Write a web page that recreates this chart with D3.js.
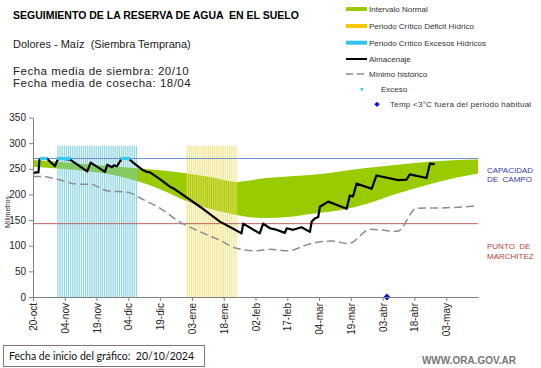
<!DOCTYPE html>
<html><head><meta charset="utf-8">
<script src="https://cdn.jsdelivr.net/npm/d3@7"></script>
<style>body{margin:0;background:#fff}svg{display:block}text{white-space:pre}</style>
</head><body>
<script>
// ---- DATA (day index = days since 20-oct-2024) ----
const tickDays = [0,15,30,45,60,75,90,105,120,135,150,165,180,195];
const tickLabels = ["20-oct","04-nov","19-nov","04-dic","19-dic","03-ene","18-ene","02-feb","17-feb","04-mar","19-mar","03-abr","18-abr","03-may"];
const yTicks = [0,50,100,150,200,250,300,350];

const bandDays  = [0,10,28,40,49,60,73,85,96,100,110,120,131,140,156,172,188,200,210];
const bandUpper = [267,264,258,254,251,247,241,233,224,226,232,235,238,242,251,258,264,267,268];
const bandLower = [254,251,244,236,226,210,186,170,160,157,154,156,162,166,180,202,221,233,241];

const storDays = [0,1.4,2.6,3,3.8,6.5,10.4,11.5,12.5,17.5,25.6,27.2,34,35,37.3,38.2,39.6,41.4,42,45,47.3,52,53.6,55.2,59.9,64.6,67,78.8,88.2,94.5,98.4,99.2,107,108.6,111.8,114.2,118.9,119.7,122.8,126.7,130.7,131.5,133,134.6,135.4,139.3,148,149.5,151,152.7,159.8,162.1,172.3,176.3,177.8,185.7,187.3,189.6];
const storVals = [241,243,243,267,270,270,255,267,270,268,245,262,244,258,253,257,255,267,270,270,262,247,244,243,230,215,210,176,147,133,124,143,124,143,134,132,125,134,131,136,127,147,153,156,176,186,172,198,196,221,211,237,228,229,239,232,260,259];

const minDays = [0,4,13,21,27,35,45,51,60,69,79,88,96,105,112,120,131,141,149,159,172,181,195,210];
const minVals = [235,235,228,220,220,207,204,192,173,147,127,111,95,90,93,90,104,109,104,132,128,173,174,178];

const excesoDays = [4,5,6,12,13,14,15,16,17,42,43,44,45];
const excesoVal = 270;
const tempDays = [167];
const tempVal = 0;

const excessPeriod = [12,49];   // Periodo Crítico Excesos Hídricos
const deficitPeriod = [73,96];  // Periodo Crítico Déficit Hídrico
const periodTop = 295;

const capacidad = 270;
const marchitez = 143;

// ---- DRAW ----
const W=541,H=368;
const svg=d3.select("body").append("svg").attr("width",W).attr("height",H)
  .style("font-family","'Liberation Sans',Arial,sans-serif");

const x=d3.scaleLinear().domain([0,210]).range([33,478]);
const y=d3.scaleLinear().domain([0,350]).range([297,117.5]);

// green band
const band=bandDays.map((d,i)=>({d,u:bandUpper[i],l:bandLower[i]}));
svg.append("path").datum(band)
  .attr("d",d3.area().x(p=>x(p.d)).y0(p=>y(p.l)).y1(p=>y(p.u)).curve(d3.curveMonotoneX))
  .attr("fill","#99cc00");

// striped periods
function stripes(per,color,op){
  const days=d3.range(per[0],per[1]+1);
  const w=(x(1)-x(0));
  svg.append("g").selectAll("rect").data(days).join("rect")
    .attr("x",d=>x(d)-w/2).attr("width",w*0.6)
    .attr("y",y(periodTop)).attr("height",y(0)-y(periodTop))
    .attr("fill",color).attr("opacity",op);
}
stripes(excessPeriod,"#6cc8dc",0.75);
stripes(deficitPeriod,"#f2dc6a",0.75);

// reference lines
svg.append("line").attr("x1",x(0)).attr("x2",x(210)).attr("y1",y(capacidad)).attr("y2",y(capacidad))
  .attr("stroke","#6f8fd0").attr("stroke-width",1);
svg.append("line").attr("x1",x(0)).attr("x2",x(210)).attr("y1",y(marchitez)).attr("y2",y(marchitez))
  .attr("stroke","#c06060").attr("stroke-width",1);

// minimo historico
svg.append("path").datum(minDays.map((d,i)=>[d,minVals[i]]))
  .attr("d",d3.line().x(p=>x(p[0])).y(p=>y(p[1])).curve(d3.curveMonotoneX))
  .attr("fill","none").attr("stroke","#8c8c8c").attr("stroke-width",1.5).attr("stroke-dasharray","8,4");

// almacenaje
svg.append("path").datum(storDays.map((d,i)=>[d,storVals[i]]))
  .attr("d",d3.line().x(p=>x(p[0])).y(p=>y(p[1])))
  .attr("fill","none").attr("stroke","#000").attr("stroke-width",2.2).attr("stroke-linejoin","round");

// exceso markers
svg.append("g").selectAll("rect").data(excesoDays).join("rect")
  .attr("x",d=>x(d)-1.6).attr("y",y(excesoVal)-1.6).attr("width",3.2).attr("height",3.2).attr("fill","#33ccee");

// temp markers
svg.append("g").selectAll("path").data(tempDays).join("path")
  .attr("d",d3.symbol(d3.symbolDiamond2,30)())
  .attr("transform",d=>`translate(${x(d)},${y(tempVal)})`).attr("fill","#0a14d8");

// axes
const xa=svg.append("g").attr("transform",`translate(0,${y(0)})`)
  .call(d3.axisBottom(x).tickValues(tickDays).tickFormat((d,i)=>tickLabels[i]).tickSize(4).tickSizeOuter(0));
xa.select(".domain").attr("stroke","#808080");
xa.selectAll(".tick line").attr("stroke","#808080");
xa.selectAll("text").attr("transform","rotate(-90)").attr("text-anchor","end")
  .attr("x",-6).attr("y",0).attr("dy","0.35em").attr("font-size",10).attr("fill","#222").attr("font-family","'Liberation Sans',Arial,sans-serif");

const ya=svg.append("g").attr("transform",`translate(${x(0)},0)`)
  .call(d3.axisLeft(y).tickValues(yTicks).tickSize(4).tickSizeOuter(0));
ya.select(".domain").attr("stroke","#808080");
ya.selectAll(".tick line").attr("stroke","#808080");
ya.selectAll("text").attr("font-size",10).attr("fill","#222").attr("x",-7).attr("font-family","'Liberation Sans',Arial,sans-serif");

svg.append("text").attr("transform","translate(10,212) rotate(-90)").attr("text-anchor","middle")
  .attr("font-size",7).attr("fill","#333").text("Milimetros");

// titles
svg.append("text").attr("x",13).attr("y",19).attr("font-size",10.5).attr("font-weight","bold").attr("fill","#000")
  .text("SEGUIMIENTO DE LA RESERVA DE AGUA  EN EL SUELO");
svg.append("text").attr("x",13).attr("y",48).attr("font-size",11).attr("fill","#222").text("Dolores - Maíz  (Siembra Temprana)");
svg.append("text").attr("x",13).attr("y",75).attr("font-size",11.5).attr("letter-spacing",0.5).attr("fill","#222").text("Fecha media de siembra: 20/10");
svg.append("text").attr("x",13).attr("y",87).attr("font-size",11.5).attr("letter-spacing",0.5).attr("fill","#222").text("Fecha media de cosecha: 18/04");

// legend
const lg=svg.append("g").attr("font-size",8).attr("fill","#333");
const lx=346, lw=21, tx=369;
const rows=[
  {t:"Intervalo Normal",y:9,type:"rect",c:"#99cc00"},
  {t:"Periodo Crítico Déficit Hídrico",y:26,type:"rect",c:"#f7c800"},
  {t:"Periodo Crítico Excesos Hídricos",y:42.7,type:"rect",c:"#33c4ee"},
  {t:"Almacenaje",y:59,type:"line"},
  {t:"Mínimo histórico",y:74,type:"dash"}
];
rows.forEach(r=>{
  if(r.type==="rect") lg.append("rect").attr("x",lx).attr("y",r.y-2).attr("width",lw).attr("height",4).attr("fill",r.c);
  else if(r.type==="line") lg.append("line").attr("x1",lx).attr("x2",lx+lw).attr("y1",r.y).attr("y2",r.y).attr("stroke","#000").attr("stroke-width",2);
  else lg.append("line").attr("x1",lx).attr("x2",lx+lw).attr("y1",r.y).attr("y2",r.y).attr("stroke","#8c8c8c").attr("stroke-width",1.5).attr("stroke-dasharray","7,4");
  lg.append("text").attr("x",tx).attr("y",r.y).attr("dy","0.35em").text(r.t);
});
lg.append("rect").attr("x",360.5).attr("y",88).attr("width",2.5).attr("height",2.5).attr("fill","#33ccee");
lg.append("text").attr("x",381).attr("y",89.3).attr("dy","0.35em").text("Exceso");
lg.append("path").attr("d",d3.symbol(d3.symbolDiamond2,18)()).attr("transform","translate(377,104.3)").attr("fill","#0a14d8");
lg.append("text").attr("x",390).attr("y",104.3).attr("dy","0.35em").attr("letter-spacing",0.25).text("Temp <3°C fuera del periodo habitual");

// right labels
svg.append("text").attr("x",487).attr("y",170).attr("dy","0.35em").attr("font-size",8).attr("fill","#3b3ba8").text("CAPACIDAD");
svg.append("text").attr("x",487).attr("y",179.5).attr("dy","0.35em").attr("font-size",8).attr("fill","#3b3ba8").text("DE  CAMPO");
svg.append("text").attr("x",487).attr("y",246.5).attr("dy","0.35em").attr("font-size",8).attr("fill","#c04040").text("PUNTO  DE");
svg.append("text").attr("x",487).attr("y",256).attr("dy","0.35em").attr("font-size",8).attr("fill","#c04040").text("MARCHITEZ");

// footer
svg.append("rect").attr("x",3.5).attr("y",345.5).attr("width",201).attr("height",21).attr("fill","#fff").attr("stroke","#8a7070");
svg.append("text").attr("x",9).attr("y",356).attr("dy","0.35em").attr("font-size",10.5).attr("font-family","Lato,sans-serif").attr("fill","#111")
  .text("Fecha de inicio del gráfico:  20/10/2024");
svg.append("text").attr("x",516).attr("y",360).attr("dy","0.35em").attr("text-anchor","end").attr("font-size",10).attr("font-weight","bold").attr("fill","#777").text("WWW.ORA.GOV.AR");
</script>
</body></html>
